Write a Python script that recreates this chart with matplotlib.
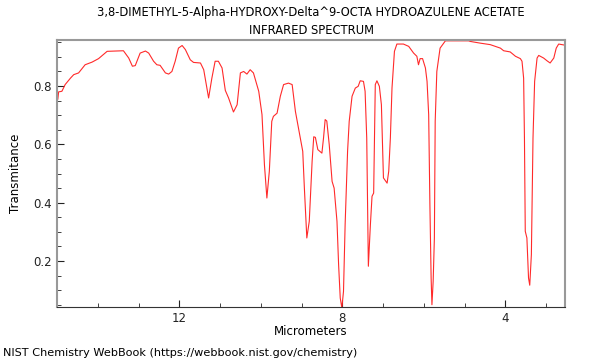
import matplotlib
matplotlib.use('Agg')
import matplotlib.pyplot as plt
from matplotlib.ticker import MultipleLocator

# spectrum (micrometers, transmittance)
wavelength = [14.98, 14.96, 14.88, 14.80, 14.67, 14.59, 14.47, 14.31, 14.14, 13.98,
              13.77, 13.37, 13.24, 13.15, 13.08, 12.96, 12.83, 12.75, 12.63, 12.55,
              12.47, 12.34, 12.26, 12.18, 12.10, 12.02, 11.93, 11.85, 11.73, 11.65,
              11.48, 11.40, 11.28, 11.20, 11.12, 11.04, 10.95, 10.87, 10.79, 10.67,
              10.58, 10.50, 10.42, 10.34, 10.26, 10.18, 10.05, 9.97, 9.91, 9.85,
              9.79, 9.73, 9.69, 9.60, 9.52, 9.44, 9.32, 9.23, 9.15, 9.03,
              8.97, 8.93, 8.87, 8.81, 8.74, 8.70, 8.66, 8.60, 8.50, 8.46,
              8.42, 8.38, 8.32, 8.25, 8.20, 8.13, 8.09, 8.05, 8.01, 7.97,
              7.93, 7.87, 7.83, 7.76, 7.68, 7.61, 7.56, 7.48, 7.44, 7.40,
              7.36, 7.31, 7.27, 7.23, 7.19, 7.15, 7.09, 7.04, 6.99, 6.90,
              6.86, 6.82, 6.78, 6.72, 6.66, 6.50, 6.37, 6.25, 6.17, 6.13,
              6.09, 6.03, 5.96, 5.92, 5.88, 5.85, 5.82, 5.80, 5.77, 5.74,
              5.72, 5.68, 5.60, 5.47, 4.90, 4.86, 4.61, 4.37, 4.12, 4.04,
              3.88, 3.75, 3.63, 3.59, 3.55, 3.53, 3.51, 3.47, 3.43, 3.40,
              3.36, 3.32, 3.28, 3.22, 3.18, 3.06, 2.98, 2.90, 2.81, 2.75,
              2.69, 2.61, 2.53]
transmittance = [0.755, 0.780, 0.782, 0.805, 0.827, 0.839, 0.845, 0.873, 0.882, 0.894,
                 0.919, 0.921, 0.896, 0.868, 0.870, 0.913, 0.920, 0.913, 0.885, 0.873,
                 0.871, 0.845, 0.841, 0.850, 0.885, 0.930, 0.939, 0.925, 0.890, 0.881,
                 0.879, 0.856, 0.759, 0.827, 0.885, 0.885, 0.862, 0.785, 0.759, 0.711,
                 0.736, 0.845, 0.850, 0.841, 0.856, 0.845, 0.782, 0.702, 0.530, 0.416,
                 0.508, 0.679, 0.696, 0.707, 0.765, 0.805, 0.810, 0.805, 0.713, 0.622,
                 0.576, 0.450, 0.279, 0.336, 0.542, 0.626, 0.624, 0.582, 0.570, 0.622,
                 0.685, 0.680, 0.599, 0.473, 0.450, 0.336, 0.187, 0.073, 0.039, 0.096,
                 0.325, 0.576, 0.679, 0.765, 0.793, 0.799, 0.818, 0.816, 0.782, 0.622,
                 0.182, 0.325, 0.422, 0.433, 0.805, 0.818, 0.799, 0.736, 0.485, 0.467,
                 0.508, 0.622, 0.793, 0.919, 0.944, 0.944, 0.936, 0.913, 0.902, 0.873,
                 0.894, 0.894, 0.862, 0.816, 0.702, 0.393, 0.142, 0.050, 0.130, 0.279,
                 0.679, 0.850, 0.930, 0.955, 0.955, 0.953, 0.947, 0.942, 0.930, 0.921,
                 0.917, 0.902, 0.894, 0.885, 0.827, 0.622, 0.302, 0.279, 0.142, 0.117,
                 0.222, 0.622, 0.816, 0.896, 0.905, 0.896, 0.887, 0.879, 0.896, 0.930,
                 0.944, 0.942, 0.940]

title = '3,8-DIMETHYL-5-Alpha-HYDROXY-Delta^9-OCTA HYDROAZULENE ACETATE\nINFRARED SPECTRUM'

fig = plt.figure(figsize=(6, 3.6), dpi=100)
ax = fig.add_axes([0.095, 0.147, 0.847, 0.742])
ax.plot(wavelength, transmittance, color='#ff2a2a', lw=0.8)

ax.set_xlim(15.0, 2.53)
ax.set_ylim(0.042, 0.958)
ax.xaxis.set_major_locator(MultipleLocator(4))
ax.xaxis.set_minor_locator(MultipleLocator(1))
ax.yaxis.set_major_locator(MultipleLocator(0.2))
ax.yaxis.set_minor_locator(MultipleLocator(0.05))
ax.tick_params(which='both', direction='in', labelsize=8.5, colors='#222222')
ax.tick_params(which='major', length=5)
ax.tick_params(which='minor', length=3)

for s in ['top', 'left', 'right']:
    ax.spines[s].set_color('#999999')
    ax.spines[s].set_linewidth(1.5)
ax.spines['bottom'].set_color('#333333')

ax.set_title(title, fontsize=8.3, linespacing=1.5, pad=4)
ax.set_xlabel('Micrometers', fontsize=8.5, labelpad=0)
ax.set_ylabel('Transmitance', fontsize=8.5, labelpad=8)
fig.text(0.005, 0.01, 'NIST Chemistry WebBook (https://webbook.nist.gov/chemistry)', fontsize=8.1)

fig.savefig('out.png', dpi=100)
